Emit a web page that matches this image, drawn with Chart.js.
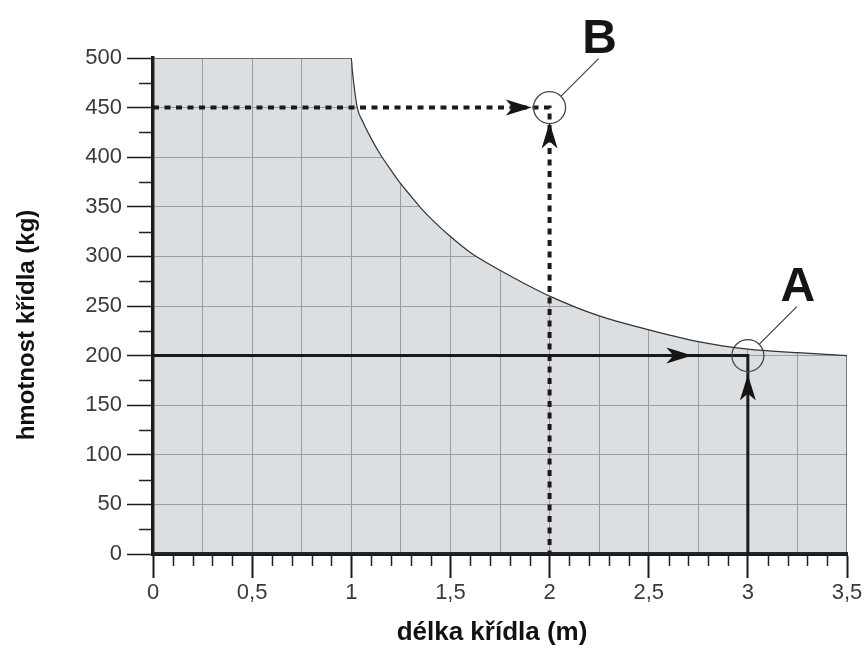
<!DOCTYPE html>
<html>
<head>
<meta charset="utf-8">
<title>hmotnost křídla</title>
<script src="https://cdn.jsdelivr.net/npm/chart.js@4.4.1/dist/chart.umd.min.js"></script>
<style>
	html, body { margin: 0; padding: 0; background: #fff; }
</style>
</head>
<body>
<canvas id="myChart" width="867" height="650"></canvas>
<script>
// obalová křivka - max. hmotnost pro danou délku křídla
var envX = [0, 1, 1.005, 1.012, 1.03, 1.06, 1.1, 1.146, 1.2, 1.25, 1.3, 1.35, 1.42, 1.5, 1.6, 1.75, 1.87, 2, 2.25, 2.5, 2.75, 3, 3.25, 3.5];
var envY = [500, 500, 488, 475, 450, 435, 419, 403, 387, 373, 361, 349, 334.5, 320, 304, 286, 273, 260, 240, 226, 214, 206.5, 203, 200];

// pravý okraj oblasti
var edgeX = [3.5, 3.5];
var edgeY = [200, 0];

// odečet A (plná čára) a B (čárkovaná)
var pathAX = [0, 3, 3];
var pathAY = [200, 200, 0];
var pathBX = [0, 2, 2];
var pathBY = [450, 450, 0];

// body A, B
var markerX = [3, 2];
var markerY = [200, 450];
var markerLabels = ['A', 'B'];

// hroty šipek
var arrowX = [2.72, 3, 1.91, 2];
var arrowY = [200, 181, 450, 435];
var arrowDir = ['right', 'up', 'right', 'up'];

var xTickLabels = ['0', '0,5', '1', '1,5', '2', '2,5', '3', '3,5'];
var yTickLabels = ['0', '50', '100', '150', '200', '250', '300', '350', '400', '450', '500'];

var xTitle = 'délka křídla (m)';
var yTitle = 'hmotnost křídla (kg)';

var FONT = '"Liberation Sans", Arial, Helvetica, sans-serif';
var gridColor = '#aeaead';

function pts(xs, ys) {
	var out = [];
	for (var i = 0; i < xs.length; i++) out.push({ x: xs[i], y: ys[i] });
	return out;
}

var decor = {
	id: 'decor',
	afterDatasetsDraw: function(chart) {
		var ctx = chart.ctx, sx = chart.scales.x, sy = chart.scales.y;
		ctx.save();
		ctx.fillStyle = '#151515';
		for (var i = 0; i < arrowX.length; i++) {
			var px = sx.getPixelForValue(arrowX[i]), py = sy.getPixelForValue(arrowY[i]);
			ctx.save();
			ctx.translate(px, py);
			if (arrowDir[i] == 'up') ctx.rotate(-Math.PI / 2);
			ctx.beginPath();
			ctx.moveTo(0, 0);
			ctx.lineTo(-26, -8);
			ctx.lineTo(-19, 0);
			ctx.lineTo(-26, 8);
			ctx.closePath();
			ctx.fill();
			ctx.restore();
		}

		ctx.strokeStyle = '#444';
		ctx.lineWidth = 1.2;
		ctx.fillStyle = '#151515';
		ctx.font = 'bold 48px ' + FONT;
		ctx.textAlign = 'center';
		ctx.textBaseline = 'alphabetic';
		for (var j = 0; j < markerX.length; j++) {
			var cx = sx.getPixelForValue(markerX[j]), cy = sy.getPixelForValue(markerY[j]);
			ctx.beginPath();
			ctx.moveTo(cx + 11.5, cy - 11.5);
			ctx.lineTo(cx + 49, cy - 49);
			ctx.stroke();
			ctx.fillText(markerLabels[j], cx + 50, cy - 55);
		}
		ctx.restore();
	},
	afterDraw: function(chart) {
		var ctx = chart.ctx, sx = chart.scales.x, sy = chart.scales.y;
		var area = chart.chartArea;
		ctx.save();
		// vedlejší značky
		ctx.strokeStyle = '#222';
		ctx.lineWidth = 1.5;
		ctx.beginPath();
		for (var i = 1; i < 35; i++) {
			if (i % 5 == 0) continue;
			var px = Math.round(sx.getPixelForValue(i / 10)) + 0.5;
			ctx.moveTo(px, area.bottom + 2);
			ctx.lineTo(px, area.bottom + 12);
		}
		for (var k = 25; k < 500; k += 50) {
			var py = Math.round(sy.getPixelForValue(k)) + 0.5;
			ctx.moveTo(area.left - 14, py);
			ctx.lineTo(area.left - 2, py);
		}
		ctx.stroke();

		// popisky os
		ctx.fillStyle = '#111';
		ctx.textAlign = 'center';
		ctx.textBaseline = 'alphabetic';
		ctx.font = 'bold 26px ' + FONT;
		ctx.fillText(xTitle, (area.left + area.right) / 2 - 8, 640);
		ctx.translate(34, (area.top + area.bottom) / 2 + 19);
		ctx.rotate(-Math.PI / 2);
		ctx.font = 'bold 24px ' + FONT;
		ctx.fillText(yTitle, 0, 0);
		ctx.restore();
	}
};

var ctx = document.getElementById('myChart').getContext('2d');
var chart = new Chart(ctx, {
	type: 'line',
	data: {
		datasets: [
			{
				label: 'body',
				data: pts(markerX, markerY),
				showLine: false,
				pointRadius: 16,
				pointBorderWidth: 1.3,
				pointBorderColor: '#444',
				pointBackgroundColor: 'rgba(0,0,0,0)',
				order: 0
			},
			{
				label: 'A',
				data: pts(pathAX, pathAY),
				borderColor: '#1a1a1a',
				borderWidth: 3,
				pointRadius: 0,
				fill: false,
				order: 1
			},
			{
				label: 'B',
				data: pts(pathBX, pathBY),
				borderColor: '#1a1a1a',
				borderWidth: 4,
				borderDash: [6, 5.5],
				pointRadius: 0,
				fill: false,
				order: 2
			},
			{
				label: 'okraj',
				data: pts(edgeX, edgeY),
				borderColor: '#333',
				borderWidth: 1.2,
				pointRadius: 0,
				fill: false,
				order: 3
			},
			{
				label: 'obalka',
				data: pts(envX, envY),
				borderColor: '#333',
				borderWidth: 1.2,
				backgroundColor: 'rgba(80,95,110,0.2)',
				cubicInterpolationMode: 'monotone',
				pointRadius: 0,
				fill: 'origin',
				order: 4
			},
			{
				label: 'nad',
				data: pts(envX, envY),
				borderWidth: 0,
				borderColor: 'rgba(0,0,0,0)',
				backgroundColor: '#ffffff',
				cubicInterpolationMode: 'monotone',
				pointRadius: 0,
				fill: 'end',
				order: 5
			}
		]
	},
	options: {
		responsive: false,
		animation: false,
		events: [],
		layout: { padding: { top: 58, right: 20, left: 0, bottom: 0 } },
		plugins: {
			legend: { display: false },
			tooltip: { enabled: false }
		},
		scales: {
			x: {
				type: 'linear',
				min: 0,
				max: 3.5,
				afterFit: function(scale) { scale.height = 96; },
				border: { color: '#1a1a1a', width: 4 },
				grid: {
					color: function(c) {
						var v = c.tick ? c.tick.value : 0;
						return (v === 0 || v === 3.5) ? 'rgba(0,0,0,0)' : gridColor;
					},
					lineWidth: 1,
					tickLength: 24,
					tickWidth: 2,
					tickColor: function(c) {
						var v = c.tick ? c.tick.value : 0;
						return (v * 2) % 1 === 0 ? '#1a1a1a' : 'rgba(0,0,0,0)';
					}
				},
				ticks: {
					stepSize: 0.25,
					autoSkip: false,
					maxRotation: 0,
					padding: 2,
					color: '#3a3a3a',
					font: { family: FONT, size: 22 },
					callback: function(v) {
						return (v * 2) % 1 === 0 ? xTickLabels[v * 2] : '';
					}
				}
			},
			y: {
				min: 0,
				max: 500,
				afterFit: function(scale) { scale.width = 153; },
				border: { color: '#1a1a1a', width: 3.5 },
				grid: {
					color: function(c) {
						var v = c.tick ? c.tick.value : 0;
						return v === 0 ? 'rgba(0,0,0,0)' : gridColor;
					},
					lineWidth: 1,
					tickLength: 26,
					tickWidth: 1.5,
					tickColor: '#1a1a1a'
				},
				ticks: {
					stepSize: 50,
					padding: 5,
					color: '#3a3a3a',
					font: { family: FONT, size: 22 },
					callback: function(v, i) { return yTickLabels[i]; }
				}
			}
		}
	},
	plugins: [decor]
});
</script>
</body>
</html>
